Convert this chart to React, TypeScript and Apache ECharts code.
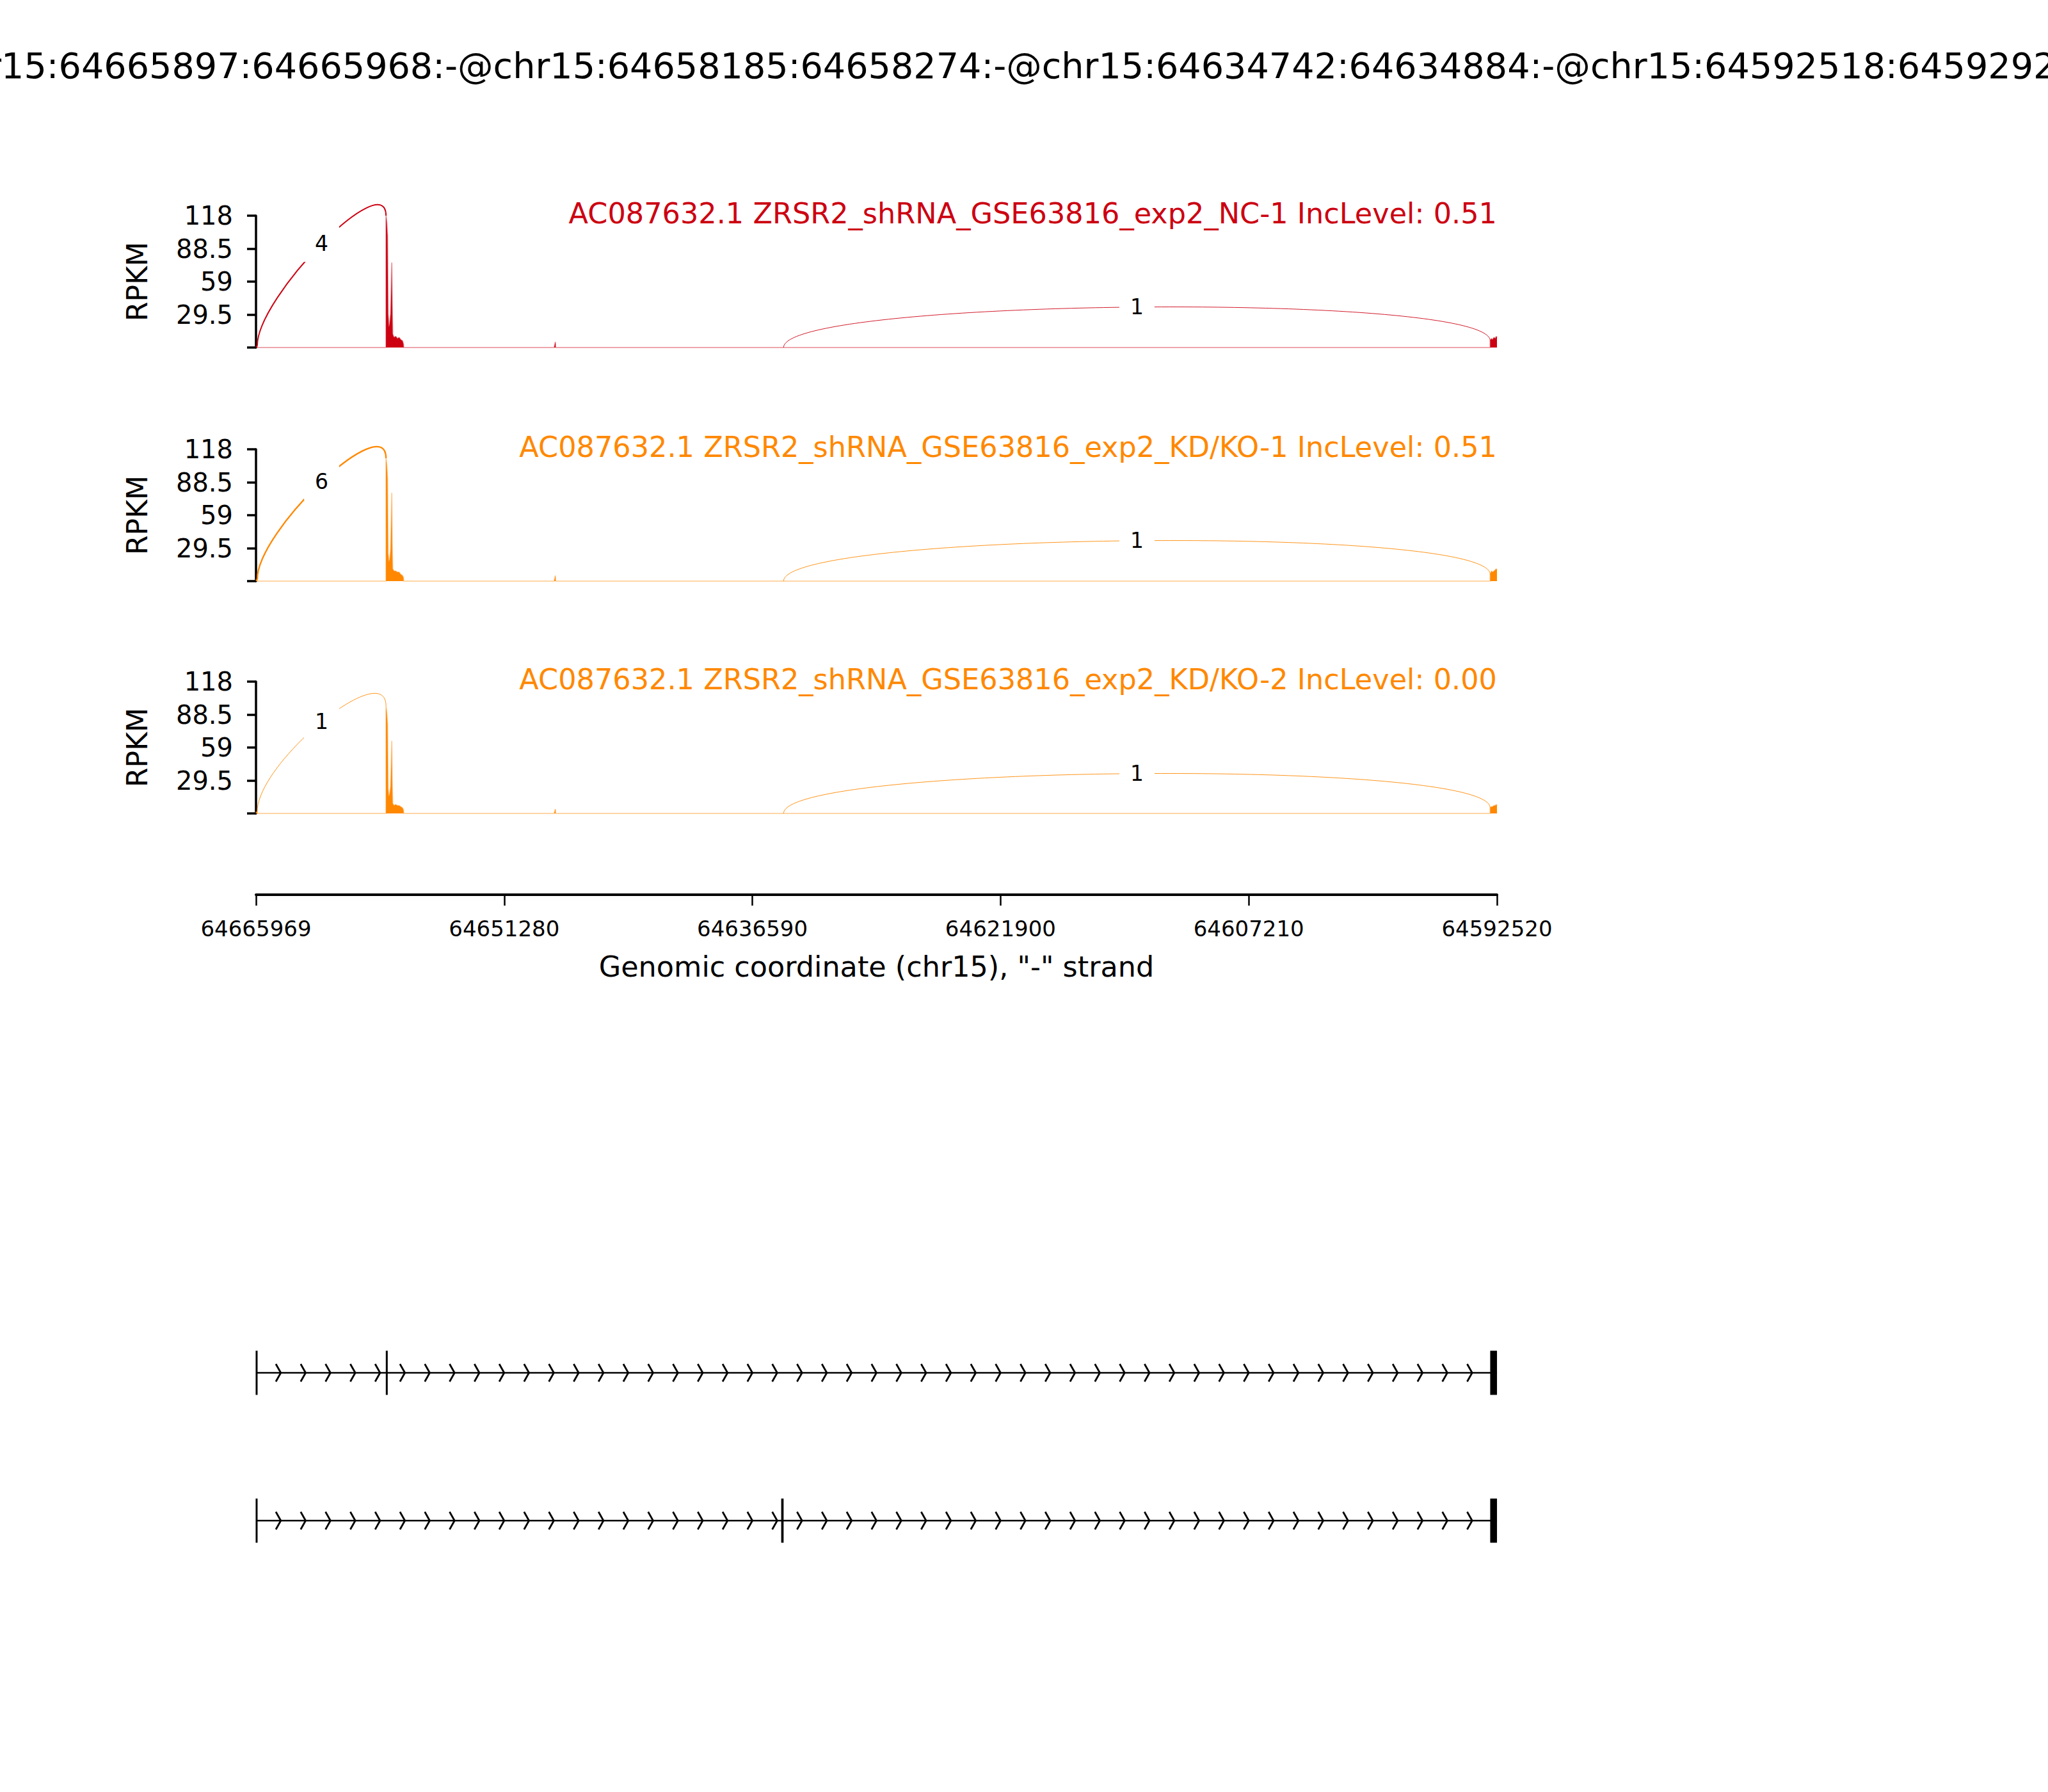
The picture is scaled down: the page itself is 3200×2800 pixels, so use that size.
import React, { useEffect, useRef } from 'react';
import * as echarts from 'echarts';

// ---------------- data ----------------
const TITLE =
  'chr15:64665897:64665968:-@chr15:64658185:64658274:-@chr15:64634742:64634884:-@chr15:64592518:64592920:-';
const X_START = 64665969; // left edge ("-" strand: coordinates decrease to the right)
const X_END = 64592520; // right edge
const X_TICK_LABELS = ['64665969', '64651280', '64636590', '64621900', '64607210', '64592520'];
const X_LABEL = 'Genomic coordinate (chr15), "-" strand';
const Y_MAX = 118;
const Y_INTERVAL = 29.5;
const Y_LABEL = 'RPKM';

const SAMPLE_LABELS = [
  'AC087632.1 ZRSR2_shRNA_GSE63816_exp2_NC-1 IncLevel: 0.51',
  'AC087632.1 ZRSR2_shRNA_GSE63816_exp2_KD/KO-1 IncLevel: 0.51',
  'AC087632.1 ZRSR2_shRNA_GSE63816_exp2_KD/KO-2 IncLevel: 0.00',
];
const SAMPLE_COLORS = ['#CC0011', '#FF8800', '#FF8800'];

// genomic positions of the coverage profile
const COV_POS = [
  64665969, 64665968, 64665897, 64665896,
  64658275, 64658274, 64658230, 64658185, 64658150, 64658100, 64658050, 64658000,
  64657960, 64657935, 64657910, 64657880, 64657800, 64657700, 64657600, 64657500,
  64657400, 64657300, 64657240, 64657230,
  64648320, 64648250, 64648235,
  64592921, 64592920, 64592850, 64592780, 64592700, 64592620, 64592560, 64592520,
];
const COV_NC1 = [
  0, 1.5, 1.5, 0,
  0, 118, 112, 100, 30, 18, 22, 30,
  55, 76, 40, 12, 9, 10, 8, 9,
  7, 6, 3, 0,
  0, 5, 0,
  0, 6, 8, 7, 9, 8, 10, 9,
];
const COV_KD1 = [
  0, 1.5, 1.5, 0,
  0, 110, 104, 92, 25, 17, 20, 28,
  55, 79, 35, 11, 9, 9, 8, 8,
  6, 5, 3, 0,
  0, 5, 0,
  0, 6, 9, 8, 9, 10, 11, 10,
];
const COV_KD2 = [
  0, 1.5, 1.5, 0,
  0, 96, 90, 80, 22, 15, 18, 24,
  45, 65, 30, 9, 7, 8, 7, 7,
  6, 5, 3, 0,
  0, 4, 0,
  0, 5, 6, 6, 7, 7, 8, 7,
];
const COVERAGES = [COV_NC1, COV_KD1, COV_KD2];

// splice junctions (left = exon end upstream, right = exon start downstream)
const JXN_LEFT = [64665897, 64634742];
const JXN_RIGHT = [64658274, 64592920];
const JXN_COUNTS_NC1 = [4, 1];
const JXN_COUNTS_KD1 = [6, 1];
const JXN_COUNTS_KD2 = [1, 1];
const JXN_COUNTS = [JXN_COUNTS_NC1, JXN_COUNTS_KD1, JXN_COUNTS_KD2];

// exons [start, end]
const EXON_START = [64665897, 64658185, 64634742, 64592518];
const EXON_END = [64665968, 64658274, 64634884, 64592920];
const ISOFORM_1 = [0, 1, 3];
const ISOFORM_2 = [0, 2, 3];
const ISOFORMS = [ISOFORM_1, ISOFORM_2];
const N_ARROWS = 50;

// ---------------- layout / style ----------------
const FONT = "'DejaVu Sans', sans-serif";
const PLOT_LEFT = 400;
const PLOT_WIDTH = 1939;
const PANEL_TOPS = [337, 702, 1065];
const PANEL_H = 206;
const AXIS_Y = 1398;
const TRACK_CENTERS = [2145, 2376];
const EXON_HALF = 34.5;
const CHEV_HALF = 13.8;
const SPAN = X_START - X_END;
const ARC_H = 0.75 * (Y_MAX / 2);

const off = (g: number) => X_START - g;

function covAt(panel: number, g: number) {
  const k = COV_POS.indexOf(g);
  return k >= 0 ? COVERAGES[panel][k] : 0;
}

export default function App() {
  const ref = useRef<HTMLDivElement>(null);

  useEffect(() => {
    if (!ref.current) return;
    const chart = echarts.init(ref.current, undefined, { renderer: 'svg' });

    const grid: any[] = [];
    const xAxis: any[] = [];
    const yAxis: any[] = [];
    const series: any[] = [];
    const graphic: any[] = [];

    // sample panels
    PANEL_TOPS.forEach((top, i) => {
      const color = SAMPLE_COLORS[i];
      grid.push({ left: PLOT_LEFT, top, width: PLOT_WIDTH, height: PANEL_H });
      xAxis.push({ type: 'value', gridIndex: i, min: 0, max: SPAN, show: false });
      yAxis.push({
        type: 'value',
        gridIndex: i,
        min: 0,
        max: Y_MAX,
        interval: Y_INTERVAL,
        axisLine: { show: true, lineStyle: { color: '#000', width: 3.5 } },
        axisTick: { show: true, length: 14, lineStyle: { color: '#000', width: 3.5 } },
        axisLabel: {
          fontSize: 40,
          fontFamily: FONT,
          color: '#000',
          margin: 36,
          formatter: (v: number) => (v === 0 ? '' : String(v)),
        },
        splitLine: { show: false },
      });
      series.push({
        type: 'line',
        xAxisIndex: i,
        yAxisIndex: i,
        data: COV_POS.map((g, k) => [off(g), COVERAGES[i][k]]),
        symbol: 'none',
        showSymbol: false,
        silent: true,
        z: 2,
        lineStyle: { color, width: 2, opacity: 0.35 },
        areaStyle: { color, opacity: 1 },
      });
      const jdata = JXN_LEFT.map((l, j) => [
        off(l),
        off(JXN_RIGHT[j]),
        covAt(i, l),
        covAt(i, JXN_RIGHT[j]),
        JXN_COUNTS[i][j],
      ]);
      series.push({
        type: 'custom',
        xAxisIndex: i,
        yAxisIndex: i,
        data: jdata,
        z: 5,
        silent: true,
        clip: false,
        renderItem: (_p: any, api: any) => {
          const x1 = api.value(0);
          const x2 = api.value(1);
          const L = api.value(2);
          const R = api.value(3);
          const n = api.value(4);
          const p0 = api.coord([x1, L]);
          const p1 = api.coord([x1, L + ARC_H]);
          const p2 = api.coord([x2, R + ARC_H]);
          const p3 = api.coord([x2, R]);
          const mx = 0.125 * p0[0] + 0.375 * p1[0] + 0.375 * p2[0] + 0.125 * p3[0];
          const my = 0.125 * p0[1] + 0.375 * p1[1] + 0.375 * p2[1] + 0.125 * p3[1];
          const lw = Math.max((Math.log(n + 1) / Math.log(10)) * (200 / 72), 0.9);
          return {
            type: 'group',
            children: [
              {
                type: 'bezierCurve',
                shape: {
                  x1: p0[0], y1: p0[1],
                  cpx1: p1[0], cpy1: p1[1],
                  cpx2: p2[0], cpy2: p2[1],
                  x2: p3[0], y2: p3[1],
                },
                style: { stroke: color, lineWidth: lw, fill: 'none' },
              },
              {
                type: 'text',
                x: mx,
                y: my,
                style: {
                  text: String(n),
                  fontSize: 33,
                  fontFamily: FONT,
                  fill: '#000',
                  align: 'center',
                  verticalAlign: 'middle',
                  backgroundColor: '#fff',
                  padding: [12, 17],
                },
              },
            ],
          };
        },
      });
      graphic.push({
        type: 'text',
        x: PLOT_LEFT + PLOT_WIDTH,
        y: top - 3,
        style: {
          text: SAMPLE_LABELS[i],
          fontSize: 44.6,
          fontFamily: FONT,
          fill: color,
          align: 'right',
          verticalAlign: 'middle',
        },
      });
      graphic.push({
        type: 'text',
        x: 214,
        y: top + PANEL_H / 2,
        rotation: Math.PI / 2,
        style: {
          text: Y_LABEL,
          fontSize: 44,
          fontFamily: FONT,
          fill: '#000',
          align: 'center',
          verticalAlign: 'middle',
        },
      });
    });

    // genomic coordinate axis
    const axisGrid = grid.length;
    grid.push({ left: PLOT_LEFT, top: AXIS_Y - 98, width: PLOT_WIDTH, height: 98 });
    const step = SPAN / (X_TICK_LABELS.length - 1);
    xAxis.push({
      type: 'value',
      gridIndex: axisGrid,
      min: 0,
      max: SPAN,
      interval: step,
      position: 'bottom',
      axisLine: { show: true, lineStyle: { color: '#000', width: 4 } },
      axisTick: { show: true, length: 17, lineStyle: { color: '#000', width: 2.5 } },
      axisLabel: {
        fontSize: 34,
        fontFamily: FONT,
        color: '#000',
        margin: 36,
        showMinLabel: true,
        showMaxLabel: true,
        formatter: (v: number) => X_TICK_LABELS[Math.round(v / step)] ?? '',
      },
      splitLine: { show: false },
    });
    yAxis.push({ type: 'value', gridIndex: axisGrid, min: 0, max: 1, show: false });
    graphic.push({
      type: 'text',
      x: PLOT_LEFT + PLOT_WIDTH / 2,
      y: 1510,
      style: {
        text: X_LABEL,
        fontSize: 44.5,
        fontFamily: FONT,
        fill: '#000',
        align: 'center',
        verticalAlign: 'middle',
      },
    });

    // gene structure tracks
    ISOFORMS.forEach((iso, t) => {
      const gi = grid.length;
      grid.push({ left: PLOT_LEFT, top: TRACK_CENTERS[t] - 50, width: PLOT_WIDTH, height: 100 });
      xAxis.push({ type: 'value', gridIndex: gi, min: 0, max: SPAN, show: false });
      yAxis.push({ type: 'value', gridIndex: gi, min: -50, max: 50, show: false });
      const exonData = iso.map((e) => [off(EXON_END[e]), off(EXON_START[e])]);
      const first = Math.min(...exonData.map((d) => d[0]));
      const last = Math.max(...exonData.map((d) => d[1]));
      // intron backbone
      series.push({
        type: 'custom',
        xAxisIndex: gi,
        yAxisIndex: gi,
        data: [[first, last]],
        silent: true,
        z: 2,
        renderItem: (_p: any, api: any) => {
          const a = api.coord([api.value(0), 0]);
          const b = api.coord([api.value(1), 0]);
          return {
            type: 'line',
            shape: { x1: a[0], y1: a[1], x2: b[0], y2: b[1] },
            style: { stroke: '#000', lineWidth: 2.5 },
          };
        },
      });
      // strand chevrons
      series.push({
        type: 'custom',
        xAxisIndex: gi,
        yAxisIndex: gi,
        data: Array.from({ length: N_ARROWS }, (_, k) => [k]),
        silent: true,
        clip: true,
        z: 3,
        renderItem: (_p: any, api: any) => {
          const loc = (api.value(0) * SPAN) / N_ARROWS;
          const spread = (0.2 * SPAN) / N_ARROWS;
          const pts = [
            api.coord([loc - spread, CHEV_HALF]),
            api.coord([loc, 0]),
            api.coord([loc - spread, -CHEV_HALF]),
          ];
          return {
            type: 'polyline',
            shape: { points: pts },
            style: { stroke: '#000', lineWidth: 2.8, fill: 'none' },
          };
        },
      });
      // exons
      series.push({
        type: 'custom',
        xAxisIndex: gi,
        yAxisIndex: gi,
        data: exonData,
        silent: true,
        z: 4,
        renderItem: (_p: any, api: any) => {
          const a = api.coord([api.value(0), EXON_HALF]);
          const b = api.coord([api.value(1), -EXON_HALF]);
          const w = Math.max(Math.abs(b[0] - a[0]), 3);
          const cx = (a[0] + b[0]) / 2;
          return {
            type: 'rect',
            shape: { x: cx - w / 2, y: a[1], width: w, height: b[1] - a[1] },
            style: { fill: '#000' },
          };
        },
      });
    });

    // title (wider than the figure, as in the original, so both ends are cut)
    graphic.push({
      type: 'text',
      x: 1600,
      y: 102,
      style: {
        text: TITLE,
        fontSize: 55.6,
        fontFamily: FONT,
        fill: '#000',
        align: 'center',
        verticalAlign: 'middle',
      },
    });

    chart.setOption({
      animation: false,
      backgroundColor: '#fff',
      textStyle: { fontFamily: FONT },
      grid,
      xAxis,
      yAxis,
      series,
      graphic,
    });

    return () => chart.dispose();
  }, []);

  return (
    <div
      ref={ref}
      style={{ position: 'absolute', left: 0, top: 0, width: 3200, height: 2800, background: '#fff' }}
    />
  );
}
